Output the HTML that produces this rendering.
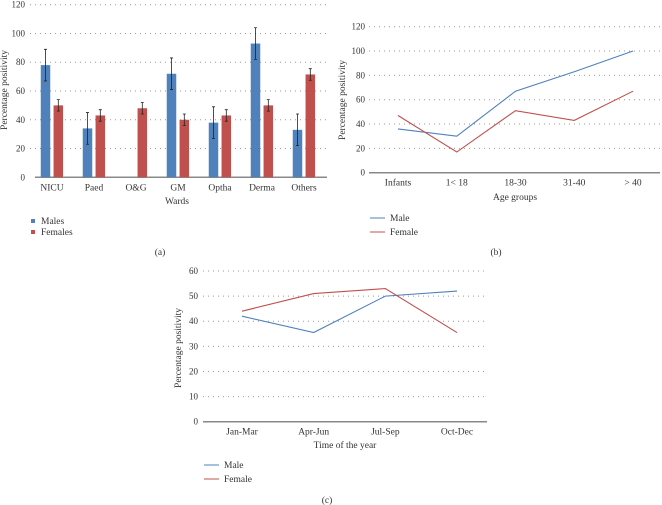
<!DOCTYPE html>
<html><head><meta charset="utf-8"><style>
html,body{margin:0;padding:0;background:#fff;}
svg{display:block;font-family:"Liberation Serif",serif;}
</style></head><body>
<svg id="s" width="662" height="505" viewBox="0 0 662 505" xmlns="http://www.w3.org/2000/svg"></svg>
<script>
const wards=["NICU","Paed","O&G","GM","Optha","Derma","Others"];
const malesVals=[78,34,0,72,38,93,33];
const malesErr=[11,11,0,11,11,11,11];
const femalesVals=[50,43,48,40,43,50,71.5];
const femalesErr=[4,4,4,4,4,4,4];
const ticksA=[0,20,40,60,80,100,120];

const ageGroups=["Infants","1< 18","18-30","31-40","> 40"];
const ageMale=[36,30,67,83,100];
const ageFemale=[47,17,51,43,67];
const ticksB=[0,20,40,60,80,100,120];

const quarters=["Jan-Mar","Apr-Jun","Jul-Sep","Oct-Dec"];
const qMale=[42,35.5,50,52];
const qFemale=[44,51,53,35.5];
const ticksC=[0,10,20,30,40,50,60];

const BLUE="#4f81bd",RED="#c0504d";
const svg=document.getElementById('s');
const NS="http://www.w3.org/2000/svg";
function el(tag,attrs,parent,text){const e=document.createElementNS(NS,tag);for(const k in attrs)e.setAttribute(k,attrs[k]);if(text!==undefined)e.textContent=text;(parent||svg).appendChild(e);return e;}

function panel(cfg){
  const g=el('g',{});
  
  
  const max=cfg.ticks[cfg.ticks.length-1];
  const y=v=>cfg.y0-(v/max)*(cfg.y0-cfg.yTop);
  const x=i=>cfg.c0+i*(cfg.c1-cfg.c0)/(cfg.cats.length-1);
  cfg.ticks.forEach(t=>{
    if(t>0){const l=el('line',{x1:cfg.gx0,x2:cfg.gx1,y1:y(t),y2:y(t),stroke:"#999","stroke-width":1,"stroke-dasharray":"1,4"},g);
      }
    const tl=el('text',{x:cfg.lx,y:y(t)+3,"font-size":9,"text-anchor":"end",fill:"#333"},g,t);
    
  });
  const ax=el('line',{x1:cfg.ax0,x2:cfg.gx1,y1:cfg.y0,y2:cfg.y0,stroke:"#888","stroke-width":1.5},g);
  
  cfg.cats.forEach((c,i)=>{const t=el('text',{x:x(i),y:cfg.y0+13,"font-size":9.5,"text-anchor":"middle",fill:"#333"},g,c);
    });
  const xt=el('text',{x:cfg.xtX,y:cfg.xtY,"font-size":9.5,"text-anchor":"middle",fill:"#333"},g,cfg.xTitle);
  
  const yt=el('text',{x:0,y:0,"font-size":9.5,"text-anchor":"middle",fill:"#333",transform:`translate(${cfg.ytX},${cfg.ytY}) rotate(-90)`},g,"Percentage positivity");
  
  const cap=el('text',{x:cfg.capX,y:cfg.capY,"font-size":9.5,"text-anchor":"middle",fill:"#333"},g,cfg.cap);
  
  return {g,x,y};
}

// Panel A
(function(){
  const p=panel({name:'chart-a-wards',cats:wards,ticks:ticksA,y0:177.3,yTop:4.7,gx0:30,gx1:327,ax0:35,c0:52,c1:304,lx:25,xTitle:"Wards",xtX:177,xtY:204,ytX:7,ytY:90,cap:"(a)",capX:160,capY:255});
  const bw=9.5;
  function bars(vals,errs,off,col,nm){
    vals.forEach((v,i)=>{
      if(v<=0)return;
      const cx=p.x(i)+off;
      const r=el('rect',{x:cx-bw/2,y:p.y(v),width:bw,height:p.y(0)-p.y(v),fill:col},p.g);
      
      const e=errs[i];
      const eb=el('path',{d:`M${cx},${p.y(v+e)}V${p.y(v-e)}M${cx-1.5},${p.y(v+e)}H${cx+1.5}M${cx-1.5},${p.y(v-e)}H${cx+1.5}`,stroke:"#222","stroke-width":0.8,fill:"none"},p.g);
      
    });
  }
  bars(malesVals,malesErr,-6.5,BLUE,'males');
  bars(femalesVals,femalesErr,6.3,RED,'females');
  [["Males",BLUE,221],["Females",RED,232]].forEach(([t,c,yy])=>{
    const lg=el('g',{},p.g);
    el('rect',{x:31,y:yy-2,width:4,height:4,fill:c},lg);
    el('text',{x:41,y:yy+3,"font-size":9.5,fill:"#333"},lg,t);
  });
})();

function lineLegend(p,x0,yM,yF){
  [["Male",BLUE,yM],["Female",RED,yF]].forEach(([t,c,yy])=>{
    const lg=el('g',{},p.g);
    el('line',{x1:x0,x2:x0+15,y1:yy,y2:yy,stroke:c,"stroke-width":1},lg);
    el('text',{x:x0+20,y:yy+3,"font-size":9.5,fill:"#333"},lg,t);
  });
}
function series(p,vals,col,nm){
  const d=vals.map((v,i)=>(i?'L':'M')+p.x(i)+','+p.y(v)).join('');
  const l=el('path',{d,stroke:col,"stroke-width":1.1,fill:"none"},p.g);
  
}
// Panel B
(function(){
  const p=panel({name:'chart-b-age',cats:ageGroups,ticks:ticksB,y0:172.7,yTop:26.7,gx0:369,gx1:660,ax0:369,c0:398,c1:633,lx:365,xTitle:"Age groups",xtX:515,xtY:200,ytX:345,ytY:100,cap:"(b)",capX:496,capY:255});
  series(p,ageMale,BLUE,'male-line');
  series(p,ageFemale,RED,'female-line');
  lineLegend(p,370,218,232);
})();
// Panel C
(function(){
  const p=panel({name:'chart-c-time',cats:quarters,ticks:ticksC,y0:421.7,yTop:271,gx0:203,gx1:487,ax0:203,c0:242,c1:457,lx:198,xTitle:"Time of the year",xtX:345,xtY:448,ytX:181,ytY:348,cap:"(c)",capX:327,capY:503});
  series(p,qMale,BLUE,'male-line');
  series(p,qFemale,RED,'female-line');
  lineLegend(p,204,465,479);
})();
</script>
</body></html>
